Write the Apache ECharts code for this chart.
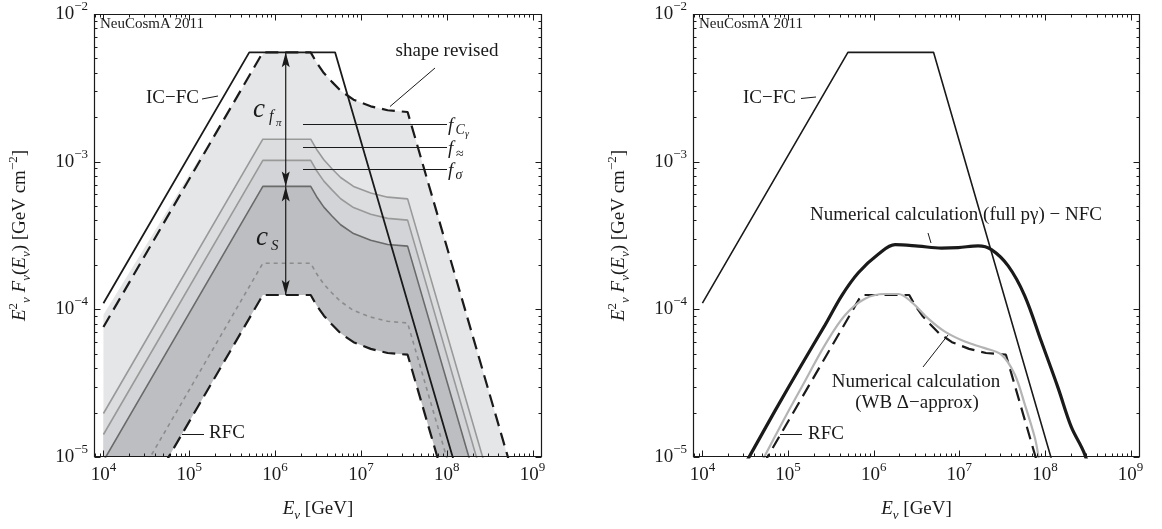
<!DOCTYPE html>
<html><head><meta charset="utf-8">
<script src="https://cdn.jsdelivr.net/npm/echarts@6/dist/echarts.min.js"></script>
<style>html,body{margin:0;padding:0;background:#fff}#c{width:1162px;height:529px}</style>
</head><body><div id="c"></div>
<script>
// ---------------- data ----------------
const xMinExp = 3.89, xMaxExp = 9.11;
const yMin = 1e-5, yMax = 1e-2;

const icfc = [[1e4,1.1e-4],[5e5,5.5e-3],[5e6,5.5e-3],[5e8,5.5e-7]];
const revisedUpper = [[1e4,7.6e-5],[7.2e5,5.5e-3],[2.6e6,5.5e-3],[3.05e6,4.68e-3],[3.7e6,3.98e-3],[4.6e6,3.47e-3],[5.8e6,3.02e-3],[8.2e6,2.63e-3],[1.3e7,2.37e-3],[2.05e7,2.23e-3],[3.5e7,2.17e-3],[1e9,2.66e-6]];
const fillUpperEdge = [[1e4,9.2e-5],[7.5e5,5.5e-3]];
const fCgamma = [[1e4,1.97e-5],[7.2e5,1.42e-3],[2.6e6,1.42e-3],[3.05e6,1.21e-3],[3.7e6,1.03e-3],[4.6e6,8.96e-4],[5.8e6,7.81e-4],[8.2e6,6.8e-4],[1.3e7,6.13e-4],[2.05e7,5.75e-4],[3.5e7,5.6e-4],[1e9,6.86e-7]];
const fApprox = [[1e4,1.42e-5],[7.2e5,1.02e-3],[2.6e6,1.02e-3],[3.05e6,8.68e-4],[3.7e6,7.38e-4],[4.6e6,6.44e-4],[5.8e6,5.61e-4],[8.2e6,4.89e-4],[1.3e7,4.41e-4],[2.05e7,4.13e-4],[3.5e7,4.02e-4],[1e9,4.92e-7]];
const fSigma = [[1e4,9.4e-6],[7.2e5,6.8e-4],[2.6e6,6.8e-4],[3.05e6,5.79e-4],[3.7e6,4.92e-4],[4.6e6,4.29e-4],[5.8e6,3.74e-4],[8.2e6,3.26e-4],[1.3e7,2.94e-4],[2.05e7,2.75e-4],[3.5e7,2.68e-4],[1e9,3.28e-7]];
const dottedCurve = [[1e4,2.85e-6],[7.2e5,2.05e-4],[2.6e6,2.05e-4],[3.05e6,1.74e-4],[3.7e6,1.48e-4],[4.6e6,1.29e-4],[5.8e6,1.13e-4],[8.2e6,9.82e-5],[1.3e7,8.86e-5],[2.05e7,8.3e-5],[3.5e7,8.08e-5],[1e9,9.9e-8]];
const rfc = [[1e4,1.74e-6],[7.2e5,1.25e-4],[2.6e6,1.25e-4],[3.05e6,1.06e-4],[3.7e6,9.05e-5],[4.6e6,7.89e-5],[5.8e6,6.88e-5],[8.2e6,5.99e-5],[1.3e7,5.4e-5],[2.05e7,5.06e-5],[3.5e7,4.93e-5],[1e9,6.04e-8]];
const arrowE = 1.33e6;
const arrowLevels = [5.5e-3, 6.8e-4, 1.25e-4];

const nfc = [[2.5e4,7.1e-6],[3.61e4,1.03e-5],[7.06e4,2.06e-5],[1.445e5,4.23e-5],[2.7e5,7.82e-5],[4.24e5,1.24e-4],[6.62e5,1.77e-4],[1.13e6,2.36e-4],[1.78e6,2.74e-4],[3.31e6,2.68e-4],[6.17e6,2.6e-4],[9.7e6,2.62e-4],[1.66e7,2.69e-4],[2.37e7,2.54e-4],[3.72e7,1.97e-4],[5.79e7,1.24e-4],[9.08e7,6.05e-5],[1.42e8,2.95e-5],[2.03e8,1.6e-5],[2.9e8,1.05e-5],[4e8,5.5e-6]];
const wb = [[4e4,7.4e-6],[5.41e4,1.03e-5],[9.25e4,1.86e-5],[1.58e5,3.27e-5],[2.7e5,5.75e-5],[4.62e5,9.12e-5],[7.91e5,1.18e-4],[1.35e6,1.27e-4],[1.94e6,1.27e-4],[2.77e6,1.12e-4],[4.34e6,8.65e-5],[6.78e6,7.06e-5],[1.16e7,6.05e-5],[1.98e7,5.46e-5],[3.1e7,4.93e-5],[4.43e7,3.63e-5],[5.79e7,2.29e-5],[7.57e7,1.37e-5],[8.3e7,1.05e-5],[9.1e7,7e-6]];

// ---------------- styling ----------------
const FONT = '"Liberation Serif", "DejaVu Serif", serif';
const INK = '#1a1a1a';
const chart = echarts.init(document.getElementById('c'), null, {renderer:'canvas'});

function expLabel(v){
  const e = Math.log10(v), r = Math.round(e);
  if (Math.abs(e - r) > 1e-6) return '';
  return '{b|10}{s|' + (r < 0 ? '\u2212' + (-r) : r) + '}';
}
const labelRich = {
  b:{fontFamily:FONT, fontSize:19, color:INK, lineHeight:28},
  s:{fontFamily:FONT, fontSize:13, color:INK, lineHeight:13, verticalAlign:'top'}
};
const nameRich = {
  i:{fontFamily:FONT, fontSize:19, fontStyle:'italic', color:INK, lineHeight:26},
  r:{fontFamily:FONT, fontSize:19, color:INK, lineHeight:26},
  sup:{fontFamily:FONT, fontSize:13, color:INK, lineHeight:13, verticalAlign:'top'},
  sub:{fontFamily:FONT, fontSize:13, fontStyle:'italic', color:INK, lineHeight:13, verticalAlign:'bottom'}
};
const yName = '{i|E}{sup|2}{sub|\u03bd}{r| }{i|F}{sub|\u03bd}{r|(}{i|E}{sub|\u03bd}{r|) [GeV cm}{sup|\u22122}{r|]}';
const xName = '{i|E}{sub|\u03bd}{r| [GeV]}';

function xAx(gi){ return {type:'log', gridIndex:gi, logBase:10, min:Math.pow(10,xMinExp), max:Math.pow(10,xMaxExp),
  axisLine:{show:false}, axisTick:{show:false}, splitLine:{show:false}, minorTick:{show:false},
  axisLabel:{formatter:expLabel, margin:4, rich:labelRich, showMinLabel:true, showMaxLabel:true},
  name:xName, nameLocation:'middle', nameGap:39, nameTextStyle:{rich:nameRich}}; }
function yAx(gi){ return {type:'log', gridIndex:gi, logBase:10, min:yMin, max:yMax,
  axisLine:{show:false}, axisTick:{show:false}, splitLine:{show:false}, minorTick:{show:false},
  axisLabel:{formatter:expLabel, margin:6, rich:labelRich},
  name:yName, nameLocation:'middle', nameRotate:90, nameGap:61, nameTextStyle:{rich:nameRich}}; }

function fillSeries(gi, pts, color, z){
  return {type:'custom', xAxisIndex:gi, yAxisIndex:gi, clip:true, silent:true, z:z,
    data:pts, encode:{x:0, y:1},
    renderItem:function(params, api){
      if (params.dataIndex !== 0) return null;
      const poly = pts.map(p => api.coord(p));
      poly.push(api.coord([pts[pts.length-1][0], 1e-8]));
      poly.push(api.coord([pts[0][0], 1e-8]));
      return {type:'polygon', shape:{points:poly}, style:{fill:color, stroke:null}};
    }};
}
function lineSeries(gi, pts, color, width, type, z, smooth){
  return {type:'line', xAxisIndex:gi, yAxisIndex:gi, data:pts, symbol:'none', showSymbol:false,
    silent:true, z:z||10, clip:true, smooth:smooth||false,
    lineStyle:{color:color, width:width, type:type||'solid', cap:'butt'}, itemStyle:{color:color}};
}
const DASH = [13,7];
const upArrow = 'path://M5,0L10,14L5,11L0,14Z';
const downArrow = 'path://M5,14L10,0L5,3L0,0Z';
function arrowSeries(top, bottom){
  return {type:'line', xAxisIndex:0, yAxisIndex:0, z:12, silent:true, showSymbol:true, symbolSize:[8,15],
    lineStyle:{color:INK, width:1.2}, itemStyle:{color:INK},
    data:[{value:[arrowE, top], symbol:upArrow, symbolOffset:[0,7.5]},
          {value:[arrowE, bottom], symbol:downArrow, symbolOffset:[0,-7.5]}]};
}

const option = {
  animation:false,
  backgroundColor:'#fff',
  grid:[{left:94, right:620, top:8, bottom:72, show:false},
        {left:693, right:22, top:8, bottom:72, show:false}],
  xAxis:[xAx(0), xAx(1)],
  yAxis:[yAx(0), yAx(1)],
  series:[
    fillSeries(0, fillUpperEdge.concat(revisedUpper.slice(2)), '#e5e6e7', 1),
    fillSeries(0, fCgamma, '#dcdddf', 2),
    fillSeries(0, fApprox, '#d3d4d7', 3),
    fillSeries(0, fSigma, '#bcbec1', 4),
    fillSeries(0, rfc, '#ffffff', 5),
    lineSeries(0, fCgamma, '#999999', 1.6),
    lineSeries(0, fApprox, '#999999', 1.6),
    lineSeries(0, fSigma, '#6a6a6a', 1.6),
    lineSeries(0, dottedCurve, '#8c8c8c', 1.6, [4,4]),
    lineSeries(0, revisedUpper, INK, 2.2, DASH),
    lineSeries(0, rfc, INK, 2.2, DASH),
    lineSeries(0, icfc, INK, 1.8),
    arrowSeries(arrowLevels[0], arrowLevels[1]),
    arrowSeries(arrowLevels[1], arrowLevels[2]),
    lineSeries(1, icfc, INK, 1.6),
    lineSeries(1, rfc, INK, 2.2, DASH),
    lineSeries(1, wb, '#b4b4b4', 2.2, 'solid', 10, 0.35),
    lineSeries(1, nfc, INK, 3.2, 'solid', 11, 0.35)
  ]
};
chart.setOption(option);

// ------------- frame, ticks and annotations -------------
const gfx = [];
function ln(x1,y1,x2,y2,w){ return {type:'line', z:100, silent:true, shape:{x1:x1,y1:y1,x2:x2,y2:y2}, style:{stroke:INK, lineWidth:w||1}}; }
function txt(x,y,s,size,italic,align){ return {type:'text', x:x, y:y, z:101, silent:true,
  style:{text:s, font:(italic?'italic ':'')+size+'px '+FONT, fill:INK, textAlign:align||'left', align:align||'left', textVerticalAlign:'middle', verticalAlign:'middle'}}; }

[0,1].forEach(function(gi){
  const xa = Math.pow(10,xMinExp), xb = Math.pow(10,xMaxExp);
  const x0 = Math.round(chart.convertToPixel({xAxisIndex:gi}, xa)) + 0.5;
  const x1 = Math.round(chart.convertToPixel({xAxisIndex:gi}, xb)) - 0.5;
  const yb = Math.round(chart.convertToPixel({yAxisIndex:gi}, yMin)) - 0.5;
  const yt = Math.round(chart.convertToPixel({yAxisIndex:gi}, yMax)) + 0.5;
  gfx.push({type:'rect', z:100, silent:true, shape:{x:x0, y:yt, width:x1-x0, height:yb-yt}, style:{fill:null, stroke:INK, lineWidth:1.2}});
  for (let n=3; n<=9; n++) for (let k=1; k<=9; k++){
    const v = k*Math.pow(10,n);
    if (v < xa || v > xb) continue;
    const px = Math.round(chart.convertToPixel({xAxisIndex:gi}, v)) + 0.5;
    const len = k===1 ? 6 : 3;
    gfx.push(ln(px,yb,px,yb-len), ln(px,yt,px,yt+len));
  }
  for (let n=-6; n<=-2; n++) for (let k=1; k<=9; k++){
    const v = k*Math.pow(10,n);
    if (v < yMin*0.999 || v > yMax*1.001) continue;
    const py = Math.round(chart.convertToPixel({yAxisIndex:gi}, v)) + 0.5;
    const len = k===1 ? 6 : 3;
    gfx.push(ln(x0,py,x0+len,py), ln(x1,py,x1-len,py));
  }
});

// left panel annotations
gfx.push(txt(100,24,'NeuCosmA 2011',15));
gfx.push(txt(199,98,'IC\u2212FC',19,false,'right'), ln(202,99,218,96));
gfx.push(txt(447,51,'shape revised',19,false,'center'), ln(435,68,390,106.5));
gfx.push(ln(303,124.5,447,124.5), ln(303,147.5,447,147.5), ln(303,169.5,447,169.5));
gfx.push(txt(448,126,'f',19,true), txt(455.5,130.5,'C',14,true), txt(465,134,'\u03b3',10,true));
gfx.push(txt(448,149,'f',19,true), txt(456,154,'\u2248',14,false));
gfx.push(txt(448,171,'f',19,true), txt(455.5,175.5,'\u03c3',14,true));
gfx.push(txt(253,110,'c',27,true), txt(269,117,'f',16,true), txt(276,123,'\u03c0',11,true));
gfx.push(txt(256,238,'c',27,true), txt(271,246,'S',15,true));
gfx.push(txt(209,433,'RFC',19), ln(182,434.5,204,434.5));
// right panel annotations
gfx.push(txt(699,24,'NeuCosmA 2011',15));
gfx.push(txt(796,98,'IC\u2212FC',19,false,'right'), ln(801,98.5,816,97));
gfx.push(txt(956,215,'Numerical calculation (full p\u03b3) \u2212 NFC',19,false,'center'), ln(928,233,931,243));
gfx.push(txt(916,382,'Numerical calculation',19,false,'center'), txt(917,403,'(WB \u0394\u2212approx)',19,false,'center'), ln(923,367,948,335));
gfx.push(txt(808,434,'RFC',19), ln(780,434.5,802,434.5));

chart.setOption({graphic:gfx});
</script></body></html>
